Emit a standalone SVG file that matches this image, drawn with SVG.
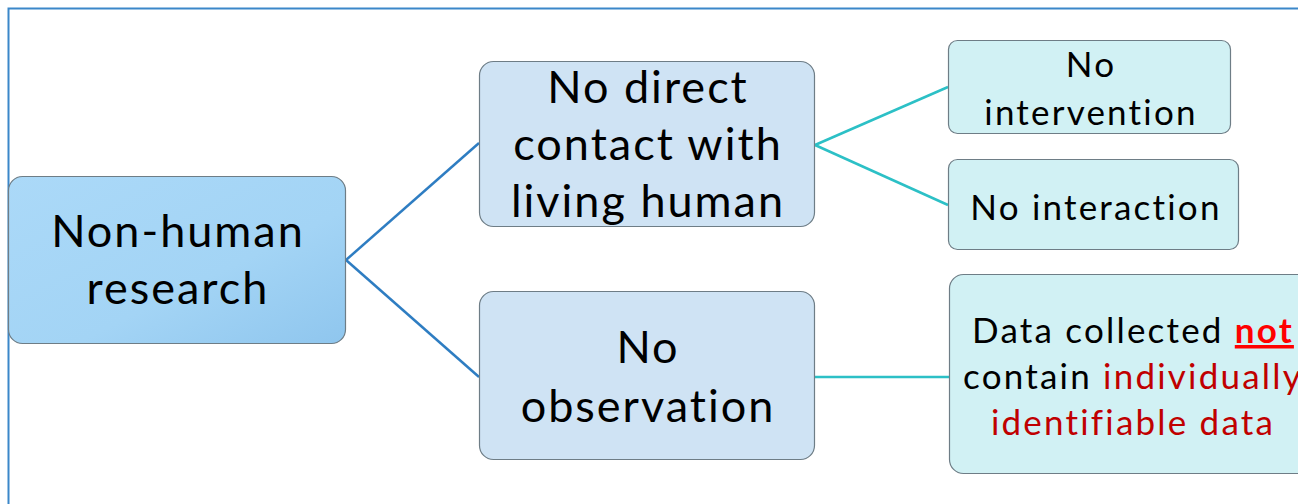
<svg xmlns="http://www.w3.org/2000/svg" width="1298" height="504" viewBox="0 0 1298 504">
<defs>
<linearGradient id="gRoot" x1="0" y1="0" x2="1" y2="1">
<stop offset="0" stop-color="#abd9f8"/>
<stop offset="0.6" stop-color="#a3d4f5"/>
<stop offset="1" stop-color="#8fc6ee"/>
</linearGradient>
</defs>
<style>
.t{font-family:Lato,"Liberation Sans",sans-serif;fill:#000;text-anchor:middle;font-variant-ligatures:none}
.big{font-size:45px;letter-spacing:2px}
.sm{font-size:35px;letter-spacing:2.2px}
.box{stroke:#6e7d86;stroke-width:1.2}
.mid{fill:#cfe3f4}
.leaf{fill:#d1f1f4}
.c1{stroke:#2e7dc2;stroke-width:2.5;fill:none}
.c2{stroke:#2cc0c6;stroke-width:2.5;fill:none}
.red{fill:#c00000}
</style>
<rect width="1298" height="504" fill="#fff"/>
<path d="M8.5,504 V8.5 H1298" fill="none" stroke="#3b87c9" stroke-width="2"/>
<g id="connectors">
<line class="c1" x1="346" y1="260" x2="479" y2="143"/>
<line class="c1" x1="346" y1="260" x2="479" y2="377"/>
<line class="c2" x1="815" y1="145" x2="948" y2="87"/>
<line class="c2" x1="815" y1="145" x2="948" y2="205"/>
<line class="c2" x1="815" y1="377" x2="949" y2="377"/>
</g>
<g id="root">
<rect class="box" x="8.5" y="176.5" width="337" height="167" rx="14" fill="url(#gRoot)"/>
<text class="t big" x="178" y="247">Non-human</text>
<text class="t big" x="178" y="304">research</text>
</g>
<g id="mid1">
<rect class="box mid" x="479.5" y="61.5" width="335" height="165" rx="14"/>
<text class="t big" x="648" y="103">No direct</text>
<text class="t big" x="648" y="160">contact with</text>
<text class="t big" x="648" y="217">living human</text>
</g>
<g id="mid2">
<rect class="box mid" x="479.5" y="291.5" width="335" height="168" rx="14"/>
<text class="t big" x="648" y="363">No</text>
<text class="t big" x="648" y="422">observation</text>
</g>
<g id="leaf1">
<rect class="box leaf" x="948.5" y="40.5" width="282" height="93" rx="9"/>
<text class="t sm" x="1091" y="77">No</text>
<text class="t sm" x="1091" y="125">intervention</text>
</g>
<g id="leaf2">
<rect class="box leaf" x="948.5" y="159.5" width="290" height="90" rx="9"/>
<text class="t sm" x="1096" y="220">No interaction</text>
</g>
<g id="leaf3">
<rect class="box leaf" x="949.5" y="274.5" width="370" height="199" rx="14"/>
<text class="t sm" x="1133" y="343">Data collected <tspan fill="#ff0000" font-weight="bold" text-decoration="underline">not</tspan></text>
<text class="t sm" x="1133" y="389">contain <tspan class="red">individually</tspan></text>
<text class="t sm red" x="1133" y="435">identifiable data</text>
</g>
</svg>
